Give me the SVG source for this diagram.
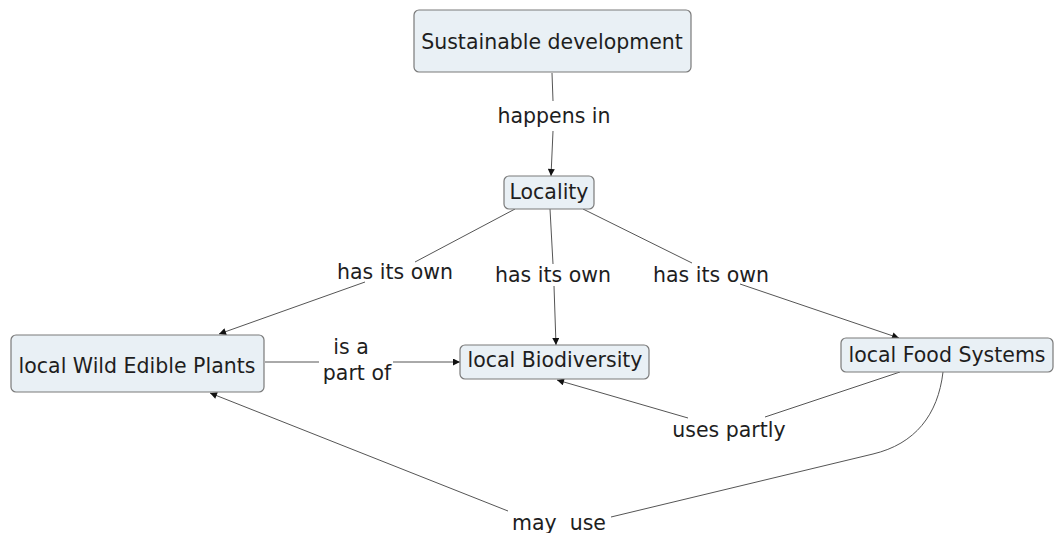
<svg xmlns="http://www.w3.org/2000/svg" width="1054" height="533" viewBox="0 0 1054 533">
<style>
.node rect{fill:#e9f0f5;stroke:#7a7a7a;stroke-width:1.2}
text{font-family:"DejaVu Sans","Liberation Sans",sans-serif;font-size:20.5px;fill:#1e1e1e;text-anchor:middle}
.c{fill:none;stroke:#555;stroke-width:1}
.a{marker-end:url(#arr)}
</style>
<defs>
<marker id="arr" viewBox="0 0 10 10" refX="10" refY="5" markerWidth="8" markerHeight="7" markerUnits="userSpaceOnUse" orient="auto">
<path d="M0,0 L10,5 L0,10 z" fill="#111"/>
</marker>
</defs>
<rect width="1054" height="533" fill="#fff"/>
<g id="connectors">
<line class="c" x1="552" y1="73" x2="553" y2="101"/>
<line class="c a" x1="553" y1="131" x2="551" y2="176"/>
<line class="c" x1="515" y1="209" x2="415" y2="262"/>
<line class="c a" x1="365" y1="282" x2="219" y2="334"/>
<line class="c" x1="550" y1="209" x2="553" y2="264"/>
<line class="c a" x1="554" y1="286" x2="556" y2="345"/>
<line class="c" x1="583" y1="209" x2="692" y2="263"/>
<line class="c a" x1="740" y1="284" x2="899" y2="338"/>
<line class="c" x1="265" y1="362" x2="319" y2="362"/>
<line class="c a" x1="393" y1="362" x2="460" y2="362"/>
<line class="c" x1="900" y1="372" x2="765" y2="417"/>
<line class="c a" x1="688" y1="418" x2="557" y2="380"/>
<path class="c" d="M943,372 C938,415 915,444 873,454 L611,517"/>
<line class="c a" x1="508" y1="511" x2="210" y2="393"/>
</g>
<g id="n-sustainable" class="node"><rect x="414" y="10" width="277" height="62" rx="5"/><text x="552" y="49">Sustainable development</text></g>
<g id="n-locality" class="node"><rect x="504" y="176" width="90" height="33" rx="5"/><text x="549" y="199">Locality</text></g>
<g id="n-wep" class="node"><rect x="11" y="335" width="253" height="57" rx="5"/><text x="137" y="373">local Wild Edible Plants</text></g>
<g id="n-bio" class="node"><rect x="460" y="345" width="189" height="34" rx="5"/><text x="555" y="367">local Biodiversity</text></g>
<g id="n-food" class="node"><rect x="841" y="338" width="212" height="34" rx="5"/><text x="947" y="362">local Food Systems</text></g>
<g id="labels">
<text x="554" y="123">happens in</text>
<text x="395" y="279">has its own</text>
<text x="553" y="282">has its own</text>
<text x="711" y="282">has its own</text>
<text x="351" y="354">is a</text>
<text x="357" y="380">part of</text>
<text x="729" y="437">uses partly</text>
<text x="559" y="530" xml:space="preserve">may  use</text>
</g>
</svg>
